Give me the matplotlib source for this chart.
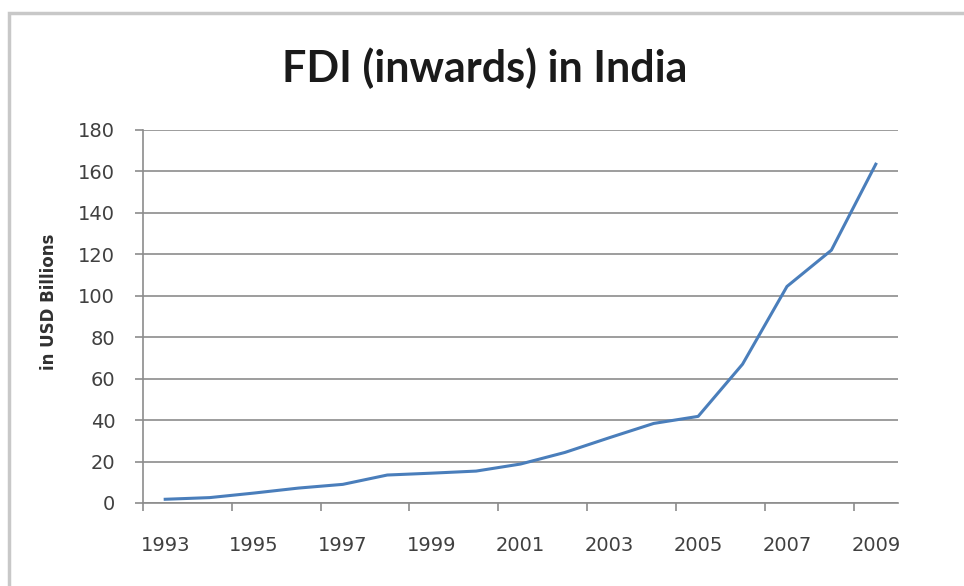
import matplotlib.pyplot as plt
from matplotlib.patches import Rectangle

# FDI inward stock, India (USD billions)
years = list(range(1993, 2010))
fdi = [1.8, 2.6, 4.8, 7.2, 9.0, 13.5, 14.4, 15.4, 18.8, 24.4, 31.5,
       38.4, 41.8, 67.0, 104.5, 122.0, 163.5]
ytick_vals = [0, 20, 40, 60, 80, 100, 120, 140, 160, 180]

fig = plt.figure(figsize=(9.64, 5.86), dpi=100)
ax = fig.add_axes([143 / 964, 1 - 503 / 586, 755 / 964, 373 / 586])

# outer chart frame (cut off at right and bottom like the screenshot)
fig.patches.append(Rectangle((9 / 964, -0.1), 1.2, 1 - 13 / 586 + 0.1,
                             transform=fig.transFigure, fill=False,
                             edgecolor='#c8c8c8', linewidth=2.5))

pos = list(range(len(years)))
ax.plot(pos, fdi, color='#4a7ebb', linewidth=2.2, solid_joinstyle='round')

ax.set_xlim(-0.5, len(years) - 0.5)
ax.set_ylim(0, 180)
ax.set_yticks(ytick_vals)
ax.grid(axis='y', color='#8c8c8c', linewidth=1.2)
ax.set_axisbelow(True)

# tick marks sit between categories, labels sit on every other category
ax.set_xticks([p - 0.5 for p in pos[::2]])
ax.set_xticklabels([])
ax.set_xticks(pos[::2], minor=True)
ax.set_xticklabels([str(y) for y in years[::2]], minor=True)
ax.tick_params(axis='x', which='major', length=6, color='#8c8c8c', width=1.2)
ax.tick_params(axis='x', which='minor', length=0, pad=24, labelsize=14,
               labelcolor='#404040')
ax.tick_params(axis='y', length=6, color='#8c8c8c', width=1.2, pad=14,
               labelsize=14, labelcolor='#404040')

for s in ['top', 'right']:
    ax.spines[s].set_visible(False)
for s in ['left', 'bottom']:
    ax.spines[s].set_color('#8c8c8c')
    ax.spines[s].set_linewidth(1.2)

ax.set_ylabel('in USD Billions', fontsize=12, fontweight='bold',
              color='#303030')
ax.yaxis.set_label_coords(-85 / 755, 0.54)
fig.text(0.503, 1 - 68 / 586, 'FDI (inwards) in India', ha='center',
         va='center', fontsize=31, family='Lato', fontweight='bold',
         color='#1a1a1a')

fig.savefig('out.png', dpi=100)
